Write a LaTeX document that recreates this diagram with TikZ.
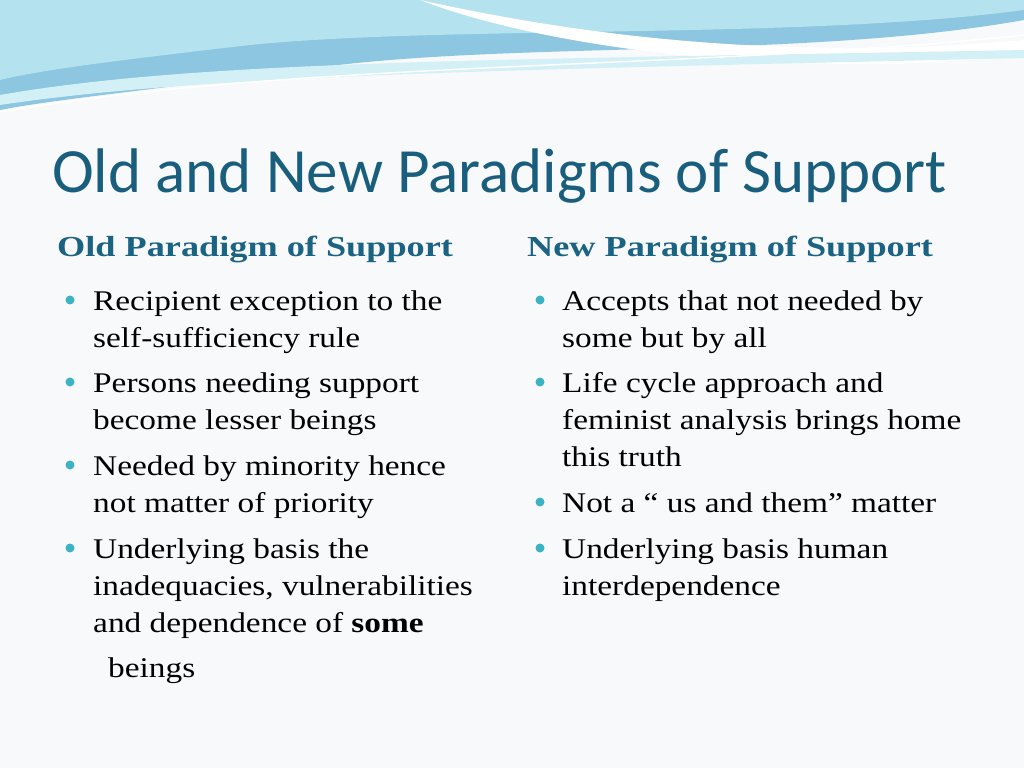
\documentclass[tikz,border=0pt]{standalone}
\usepackage{fontspec}
\setmainfont{Liberation Serif}[FakeStretch=1.17]
\newfontfamily\hdfont{Liberation Serif}[FakeStretch=1.25]
\newfontfamily\titlefont{Carlito}
\definecolor{ttl}{HTML}{1A5E7E}
\definecolor{hd}{HTML}{1B6383}
\definecolor{bul}{HTML}{3BB3C3}
\definecolor{bg}{HTML}{F7F9FB}
\definecolor{w1}{HTML}{8CC6E0}
\definecolor{w2}{HTML}{B4E2EE}
\definecolor{w3}{HTML}{D2F0F6}
\begin{document}
\begin{tikzpicture}[x=1pt,y=-1pt,
  ln/.style={anchor=base west,inner sep=0pt,font=\fontsize{28.5}{34}\selectfont},
  hdr/.style={anchor=base west,inner sep=0pt,text=hd,font=\hdfont\fontsize{29}{32}\selectfont\bfseries},
  dot/.style={circle,fill=bul,inner sep=0pt,minimum size=9pt}]
\fill[bg] (0,0) rectangle (1024,768);
\useasboundingbox (0,0) rectangle (1024,768);
% top waves
\fill[w1] (0,0) -- (1024,0) -- (1024,20) .. controls (800,60) and (500,40) .. (300,70) .. controls (150,90) and (50,100) .. (0,110) -- cycle;
\fill[w2] (0,0) -- (1024,0) -- (1024,10) .. controls (800,40) and (450,25) .. (250,45) .. controls (120,60) and (40,70) .. (0,80) -- cycle;
\fill[white] (420,0) .. controls (600,40) and (800,60) .. (1024,40) -- (1024,55) .. controls (800,80) and (550,50) .. (420,0) -- cycle;
\fill[w3] (0,95) .. controls (200,60) and (500,60) .. (1024,50) -- (1024,58) .. controls (500,70) and (200,75) .. (0,105) -- cycle;
\draw[white,line width=1.5pt] (0,112) .. controls (300,60) and (700,70) .. (1024,35);
\node[anchor=base west,inner sep=0pt,text=ttl,font=\titlefont\fontsize{63}{70}\selectfont] (title) at (52,192) {Old and New Paradigms of Support};
\node[hdr] (h1) at (57,256) {Old Paradigm of Support};
\node[hdr] (h2) at (527,256) {New Paradigm of Support};
% left
\foreach \y in {300,382,465,548} \node[dot] at (70,\y) {};
\node[ln] (a1) at (93,310) {Recipient exception to the};
\node[ln] (a2) at (93,347) {self-sufficiency rule};
\node[ln] (a3) at (93,392) {Persons needing support};
\node[ln] (a4) at (93,429) {become lesser beings};
\node[ln] (a5) at (93,475) {Needed by minority hence};
\node[ln] (a6) at (93,512) {not matter of priority};
\node[ln] (a7) at (93,558) {Underlying basis the};
\node[ln] (a8) at (93,595) {inadequacies, vulnerabilities};
\node[ln] (a9) at (93,632) {and dependence of \textbf{some}};
\node[ln] (a10) at (108,677) {beings};
% right
\foreach \y in {300,382,502,548} \node[dot] at (540,\y) {};
\node[ln] (b1) at (562,310) {Accepts that not needed by};
\node[ln] (b2) at (562,347) {some but by all};
\node[ln] (b3) at (562,392) {Life cycle approach and};
\node[ln] (b4) at (562,429) {feminist analysis brings home};
\node[ln] (b5) at (562,466) {this truth};
\node[ln] (b6) at (562,512) {Not a “ us and them” matter};
\node[ln] (b7) at (562,558) {Underlying basis human};
\node[ln] (b8) at (562,595) {interdependence};
\end{tikzpicture}
\end{document}
